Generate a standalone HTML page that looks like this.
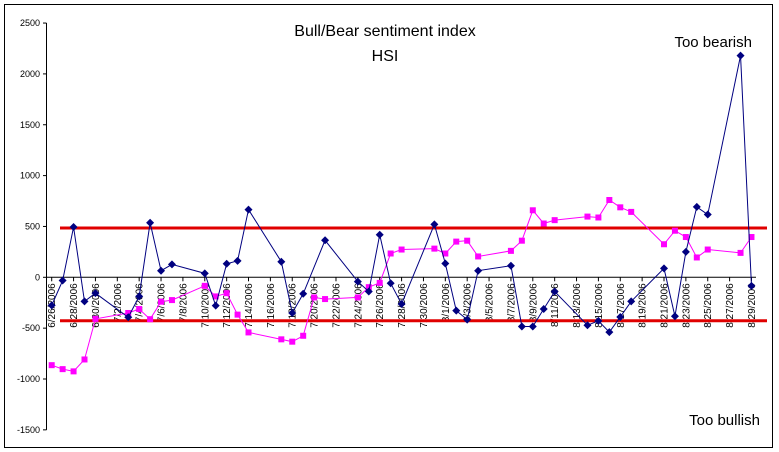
<!DOCTYPE html>
<html><head><meta charset="utf-8"><style>
body{margin:0;background:#fff;}
svg{display:block;font-family:"Liberation Sans",Arial,sans-serif;}
</style></head><body>
<svg id="chart" width="779" height="452" viewBox="0 0 779 452">
<rect x="4.5" y="4.5" width="768" height="443" fill="#fff" stroke="#000" stroke-width="1"/>
<text x="385" y="36" font-size="16" text-anchor="middle">Bull/Bear sentiment index</text>
<text x="385" y="61" font-size="16" text-anchor="middle">HSI</text>
<text x="752" y="47" font-size="15" text-anchor="end">Too bearish</text>
<text x="760" y="425" font-size="15" text-anchor="end">Too bullish</text>
<g id="axes"></g>
<g id="marks"></g>
</svg>
<script>
const yTicks=[2500,2000,1500,1000,500,0,-500,-1000,-1500];
const dayLabels=["6/26/2006","6/28/2006","6/30/2006","7/2/2006","7/4/2006","7/6/2006","7/8/2006","7/10/2006","7/12/2006","7/14/2006","7/16/2006","7/18/2006","7/20/2006","7/22/2006","7/24/2006","7/26/2006","7/28/2006","7/30/2006","8/1/2006","8/3/2006","8/5/2006","8/7/2006","8/9/2006","8/11/2006","8/13/2006","8/15/2006","8/17/2006","8/19/2006","8/21/2006","8/23/2006","8/25/2006","8/27/2006","8/29/2006"];
const blueDays=[0,1,2,3,4,7,8,9,10,11,14,15,16,17,18,21,22,23,25,28,29,30,31,32,35,36,37,38,39,42,43,44,45,46,49,50,51,52,53,56,57,58,59,60,63,64];
const blueVals=[-276,-32,494,-237,-156,-393,-188,536,65,127,39,-279,133,162,666,153,-351,-162,364,-42,-140,419,-58,-263,520,136,-328,-416,65,114,-484,-484,-312,-140,-471,-429,-539,-390,-237,88,-383,250,692,617,2180,-84];
const pinkDays=[0,1,2,3,4,7,8,9,10,11,14,15,16,17,18,21,22,23,24,25,28,29,30,31,32,35,36,37,38,39,42,43,44,45,46,49,50,51,52,53,56,57,58,59,60,63,64];
const pinkVals=[-864,-903,-925,-808,-409,-351,-312,-412,-240,-224,-84,-188,-156,-367,-542,-610,-633,-575,-198,-214,-198,-97,-55,234,273,282,234,351,360,205,260,360,659,529,562,597,588,760,688,643,325,458,396,195,273,240,396];
const upperBand=485, lowerBand=-427;

const NS="http://www.w3.org/2000/svg";
const X=d=>51.7+d*10.934;
const Y=v=>277.3-v*0.1017;
const axes=document.getElementById('axes'), marks=document.getElementById('marks');
function mk(tag,attrs,parent){const e=document.createElementNS(NS,tag);for(const k in attrs)e.setAttribute(k,attrs[k]);parent.appendChild(e);return e;}

let ya=mk('line',{x1:46.5,y1:Y(2500),x2:46.5,y2:Y(-1500),stroke:'#000'},axes);


yTicks.forEach(v=>{
  const t=mk('line',{x1:43,y1:Y(v),x2:46.5,y2:Y(v),stroke:'#000'},axes);
  
  
  const l=mk('text',{x:40,y:Y(v)+3,'font-size':9,'text-anchor':'end'},axes);
  
  
  l.textContent=v;
});
let xa=mk('line',{x1:46.5,y1:Y(0),x2:756,y2:Y(0),stroke:'#000'},axes);


dayLabels.forEach((s,i)=>{
  const d=i*2;
  const t=mk('line',{x1:X(d),y1:Y(0),x2:X(d),y2:Y(0)+4,stroke:'#000'},axes);
  
  
  const l=mk('text',{x:0,y:0,'font-size':10,'text-anchor':'end',transform:`translate(${X(d)+3.5},${Y(0)+6}) rotate(-90)`},axes);
  
  
  l.textContent=s;
});
let ub=mk('line',{x1:60,y1:Y(upperBand),x2:767,y2:Y(upperBand),stroke:'#e00000','stroke-width':3},marks);


let lb=mk('line',{x1:60,y1:Y(lowerBand),x2:767,y2:Y(lowerBand),stroke:'#e00000','stroke-width':3},marks);



let pp=mk('polyline',{points:pinkDays.map((d,i)=>X(d)+','+Y(pinkVals[i])).join(' '),fill:'none',stroke:'#ff00ff','stroke-width':1},marks);


pinkDays.forEach((d,i)=>{
  const r=mk('rect',{x:X(d)-3,y:Y(pinkVals[i])-3,width:6,height:6,fill:'#ff00ff'},marks);
  
  
});
let bp=mk('polyline',{points:blueDays.map((d,i)=>X(d)+','+Y(blueVals[i])).join(' '),fill:'none',stroke:'#000080','stroke-width':1},marks);


blueDays.forEach((d,i)=>{
  const x=X(d),y=Y(blueVals[i]);
  const p=mk('polygon',{points:`${x},${y-4} ${x+4},${y} ${x},${y+4} ${x-4},${y}`,fill:'#000080'},marks);
  
  
});
</script>
</body></html>
